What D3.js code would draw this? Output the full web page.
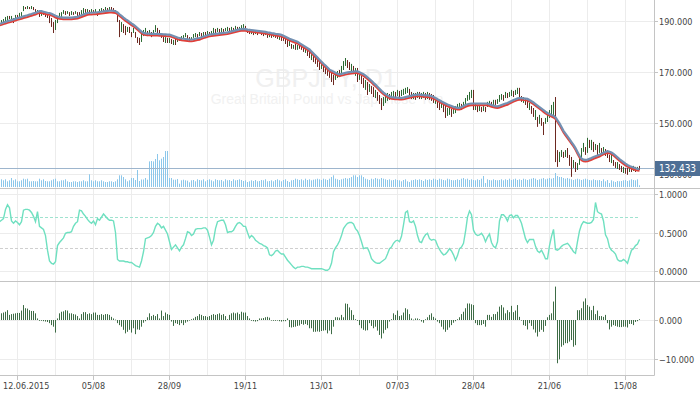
<!DOCTYPE html>
<html>
<head>
<meta charset="utf-8">
<script src="https://cdn.jsdelivr.net/npm/d3@7"></script>
<style>
  body { margin: 0; background: #fff; }
  svg { display: block; }
  .axis-text { font-family: "DejaVu Sans Condensed", "Liberation Sans", sans-serif; font-size: 9px; fill: #444; }
</style>
</head>
<body>
<div class="canvas"></div>
<script>
// GBPJPY daily, one value per bar (bar 0 = 01.06.2015)
const low = [
  188.5,189.3,189.7,190.1,190.5,190.9,190.9,189.3,191.3,191.3, 191.7,192.1,194.0,194.8,194.8,194.8,194.8,194.4,193.3,192.9,
  191.7,192.1,192.5,191.7,191.3,189.3,187.8,185.4,186.6,189.3, 190.9,191.7,192.9,192.5,192.9,192.1,192.5,192.5,192.9,192.1,
  191.7,192.5,192.9,193.3,193.6,192.9,193.3,193.3,193.6,192.1, 193.3,193.6,193.6,194.0,194.0,194.4,194.0,193.6,192.9,189.7,
  183.8,185.8,185.4,184.6,185.8,185.4,183.8,185.4,183.5,181.5, 180.7,181.9,184.2,185.4,184.2,184.6,183.8,184.6,185.8,185.4,
  184.6,183.5,181.9,181.5,181.5,181.5,181.1,180.7,180.7,181.9, 182.3,182.7,183.1,183.8,183.1,181.9,182.7,183.5,183.8,183.5,
  184.2,183.8,183.8,184.6,184.6,184.6,185.0,185.4,185.4,185.8, 185.4,185.8,185.4,186.2,186.2,185.8,186.2,185.8,186.6,186.2,
  186.6,187.0,187.4,186.6,185.4,185.0,185.0,184.6,185.0,184.6, 185.4,184.6,184.2,184.6,183.5,183.8,183.5,183.8,183.5,183.1,
  182.7,182.3,182.3,181.1,179.9,180.3,179.2,179.2,178.8,178.8, 179.2,178.8,178.0,177.6,176.4,175.6,174.8,174.0,173.3,172.1,
  170.9,171.3,170.1,169.3,168.6,167.8,166.2,165.0,167.0,167.8, 168.2,169.3,170.9,172.5,171.7,170.9,170.1,169.3,168.6,166.2,
  167.0,165.4,163.9,163.1,161.1,162.3,161.5,160.3,159.9,158.8, 157.6,155.2,156.8,158.0,158.8,159.2,159.5,160.3,159.9,160.7,
  160.3,160.7,161.1,161.5,161.9,160.7,159.5,159.5,159.2,159.9, 159.5,159.5,159.9,159.2,159.5,159.2,158.8,158.0,157.6,156.0,
  155.2,156.0,154.4,152.1,152.9,153.3,152.5,153.7,154.0,155.2, 155.6,155.2,156.0,157.2,158.8,159.2,159.9,155.2,155.2,154.4,
  154.8,154.4,154.8,154.4,156.4,156.8,156.4,156.8,157.2,157.6, 158.4,159.2,158.8,159.9,159.9,160.3,160.7,160.3,161.1,161.5,
  159.9,158.4,158.0,157.2,156.0,155.2,153.7,152.5,151.3,148.6, 149.8,149.0,145.4,149.8,150.5,152.1,152.5,152.1,134.8,132.9,
  134.8,136.8,136.4,136.8,136.4,133.3,129.0,132.5,130.9,131.7, 133.7,136.4,138.8,137.6,138.4,140.3,139.5,138.8,139.5,137.6,
  138.4,137.6,138.0,137.2,136.4,134.8,134.4,133.3,132.5,132.1, 131.7,130.9,130.5,130.2,129.8,130.9,130.9,131.3,130.9,131.3,
  131.7
];
const high = [
  189.7,190.5,190.9,191.7,192.1,192.1,192.1,191.3,192.5,192.5, 193.3,193.6,196.0,195.6,196.0,195.6,196.0,195.6,194.8,194.4,
  193.6,193.6,193.6,193.3,192.9,192.1,191.3,189.7,190.5,191.7, 193.3,193.6,194.4,194.0,194.0,193.6,194.0,193.6,194.0,193.6,
  193.6,194.4,195.2,194.8,194.8,194.4,194.8,194.4,194.8,193.6, 194.8,195.2,194.8,195.6,195.2,195.6,195.6,195.2,194.4,193.6,
  190.5,189.7,188.9,188.2,187.8,187.8,185.8,187.4,185.8,183.8, 183.5,185.4,186.6,187.4,186.2,186.6,185.8,186.6,188.5,187.4,
  186.6,185.4,184.6,183.8,183.5,183.5,183.1,182.7,183.1,183.8, 183.8,184.2,184.6,185.4,184.6,183.8,183.8,185.0,185.4,185.0,
  185.8,185.4,185.8,185.8,186.2,185.8,186.2,187.4,187.0,187.4, 187.0,187.4,187.0,187.4,187.8,187.4,187.8,187.4,188.2,187.8,
  187.8,188.5,188.9,188.2,187.0,187.0,186.6,186.6,186.2,186.2, 186.6,186.2,185.4,185.8,185.8,185.4,185.0,185.4,184.6,184.6,
  184.2,184.2,183.8,183.8,182.7,182.3,181.1,180.7,181.1,180.7, 181.1,180.3,179.9,179.5,179.2,178.4,177.6,176.8,176.0,175.6,
  174.8,174.0,173.3,172.5,171.7,170.9,170.1,169.0,170.1,170.5, 170.9,172.5,174.4,175.6,174.8,174.0,173.3,172.5,171.7,171.7,
  169.4,168.6,167.8,167.0,166.2,165.4,164.6,164.2,163.1,162.3, 161.1,159.9,160.3,161.1,161.9,161.5,162.3,162.7,162.3,163.1,
  162.7,163.1,163.5,163.9,164.2,163.5,162.3,161.9,161.9,162.3, 162.3,161.9,162.3,161.9,162.3,161.9,161.5,161.1,160.3,159.2,
  158.4,158.8,157.6,156.8,156.0,156.4,155.6,156.4,156.8,157.6, 158.0,157.6,158.4,159.9,161.1,162.3,163.1,163.1,157.6,156.8,
  156.8,156.4,156.8,156.4,158.4,158.8,158.4,159.2,159.2,159.5, 161.1,161.5,161.1,162.3,161.9,162.3,163.1,162.7,163.1,163.9,
  163.9,160.7,160.3,159.5,158.8,158.0,156.8,156.0,155.2,152.5, 153.3,152.1,150.5,152.1,153.7,155.2,157.2,158.4,160.3,139.5,
  138.8,139.5,138.8,139.5,140.3,137.6,136.8,135.6,134.8,134.4, 136.8,140.3,142.3,140.7,144.3,143.5,143.5,142.7,141.9,141.5,
  142.3,140.3,140.7,139.9,139.5,137.6,137.6,135.6,134.8,134.8, 134.0,133.3,132.9,132.5,132.5,133.3,132.9,133.3,132.9,132.9,
  133.3
];
const close = [
  189.4,190.2,190.6,191.4,191.8,191.2,191.9,189.8,192.2,191.7, 193.0,193.2,195.6,195.0,195.6,195.1,195.7,194.6,193.6,194.1,
  192.0,193.3,192.8,192.0,191.6,189.7,188.3,186.2,189.9,191.3, 192.9,193.2,194.0,192.9,193.7,192.5,193.6,192.9,193.6,192.4,
  192.0,194.1,194.9,193.7,194.5,193.4,194.5,193.7,194.5,192.5, 194.6,194.9,194.0,195.3,194.4,195.3,194.6,194.0,193.2,190.2,
  185.4,188.9,186.0,185.1,187.4,186.0,184.2,187.0,184.0,182.0, 181.2,185.0,186.2,187.0,184.6,186.2,184.3,186.0,188.0,185.8,
  185.0,183.8,182.3,183.4,181.9,183.1,181.5,182.3,181.1,183.5, 182.7,183.9,184.3,185.0,183.5,182.3,183.5,184.7,185.1,183.9,
  185.5,184.2,185.4,184.9,185.9,185.0,185.9,187.0,185.8,187.1, 185.9,187.0,185.8,187.1,187.4,186.2,187.5,186.3,187.9,186.6,
  187.5,188.2,188.6,186.9,185.8,185.4,186.3,185.0,185.9,185.0, 186.3,185.0,184.6,185.5,184.0,185.0,183.9,185.0,183.8,183.5,
  183.9,182.7,182.6,181.5,180.3,181.9,179.6,180.3,179.2,180.3, 179.5,179.0,178.4,179.1,176.8,176.0,177.2,174.4,173.7,172.5,
  171.3,173.6,170.5,169.7,169.0,168.2,166.6,165.8,169.7,170.1, 168.6,172.1,174.0,175.2,172.1,171.3,172.9,169.7,171.3,166.8,
  167.4,165.8,164.3,166.6,161.5,165.0,161.9,160.7,162.7,159.2, 158.0,155.9,159.9,160.7,161.5,159.6,161.9,162.3,160.3,162.7,
  160.7,162.7,163.1,163.5,163.9,161.1,160.0,161.5,159.6,161.9, 159.9,161.5,161.9,159.6,161.9,159.6,159.2,158.4,159.9,156.4,
  155.6,158.4,154.8,153.0,155.6,156.0,153.0,156.0,156.4,157.2, 157.6,155.6,158.0,159.5,160.7,161.9,162.7,156.0,157.2,154.8,
  156.4,154.8,156.4,154.8,158.0,158.4,156.8,158.8,157.6,159.1, 160.7,161.1,159.2,161.9,160.3,161.9,162.7,160.7,162.7,163.5,
  160.3,158.8,159.9,157.6,156.4,157.6,154.0,152.9,154.8,149.0, 152.9,149.4,147.0,151.7,153.3,154.8,156.8,158.0,139.3,133.6,
  138.4,139.1,136.8,139.1,136.8,133.7,131.5,135.0,131.5,132.0, 136.4,139.9,141.9,138.0,143.9,140.7,143.1,139.2,141.5,138.0,
  141.9,138.0,140.3,137.6,136.8,135.2,137.2,133.7,132.9,134.4, 132.1,131.3,132.5,130.6,130.2,132.9,131.3,132.9,131.7,132.5,
  132.433
];
// moving average drawn over the price bars
const ma = [
  188.9,189.1,189.4,189.6,189.9,190.1,190.3,190.6,190.8,191.1, 191.3,191.5,191.8,192.0,192.2,192.5,192.7,193.0,193.2,193.5,
  193.8,193.8,193.6,193.4,193.2,193.1,192.8,192.4,192.0,191.7, 191.5,191.4,191.3,191.3,191.3,191.3,191.3,191.4,191.5,191.6,
  191.9,192.2,192.5,192.8,193.1,193.2,193.2,193.3,193.3,193.4, 193.5,193.6,193.7,193.8,193.9,194.0,194.0,193.9,193.8,193.3,
  192.6,192.0,191.3,190.7,190.2,189.6,189.0,188.5,187.9,187.2, 186.5,185.8,185.3,185.1,185.0,185.0,184.9,184.9,184.9,184.9,
  184.8,184.8,184.7,184.7,184.6,184.6,184.4,184.1,183.8,183.5, 183.3,183.1,183.0,182.9,182.8,182.7,182.7,182.8,183.0,183.2,
  183.3,183.6,183.9,184.1,184.4,184.6,184.7,184.8,184.9,185.0, 185.1,185.2,185.3,185.4,185.5,185.7,185.9,186.1,186.3,186.5,
  186.7,186.8,186.9,186.8,186.6,186.5,186.4,186.3,186.2,186.1, 186.0,185.9,185.8,185.7,185.5,185.4,185.2,185.1,184.9,184.8,
  184.7,184.5,184.2,183.8,183.4,183.0,182.7,182.4,182.1,181.8, 181.3,180.8,180.3,179.8,179.3,178.8,178.0,177.2,176.4,175.6,
  174.8,174.0,173.2,172.5,171.7,170.9,170.5,170.1,169.7,169.3, 169.0,169.2,169.4,169.6,169.8,169.9,170.0,170.1,170.2,170.2,
  169.9,169.5,169.1,168.5,167.9,167.2,166.5,165.7,165.0,164.2, 163.4,162.6,161.9,161.3,160.8,160.4,160.1,160.0,159.9,159.9,
  159.8,159.8,159.9,160.1,160.3,160.5,160.7,160.9,161.0,161.1, 161.1,161.0,160.9,160.8,160.8,160.7,160.5,160.2,159.8,159.3,
  158.9,158.4,158.0,157.6,157.2,156.9,156.6,156.3,156.1,155.9, 155.9,156.2,156.6,157.0,157.3,157.5,157.6,157.6,157.6,157.6,
  157.6,157.6,157.6,157.6,157.6,157.3,157.0,156.8,156.6,156.5, 156.7,157.0,157.3,157.6,157.8,158.2,158.6,159.0,159.3,159.6,
  159.7,159.7,159.6,159.5,159.4,159.0,158.5,158.0,157.4,156.8, 156.2,155.6,155.0,154.4,153.9,153.5,153.1,152.8,152.2,151.0,
  149.8,148.4,146.9,145.8,144.7,143.6,142.5,141.4,140.1,138.6, 137.1,136.0,135.6,135.5,135.6,135.9,136.2,136.6,136.9,137.2,
  137.5,137.9,138.3,138.6,138.9,138.7,138.4,137.9,137.2,136.5, 135.8,135.2,134.6,134.0,133.5,133.1,132.8,132.5,132.2,132.0,
  131.9
];
const volume = [
  770,770,670,770,570,670,900,670,770,570, 570,670,830,770,830,570,570,600,570,570,
  830,670,770,600,570,570,670,770,830,570, 570,670,670,770,570,500,500,570,570,500,
  570,570,670,570,570,1270,670,570,670,570, 570,670,570,500,500,570,570,500,570,770,
  1170,1170,1000,770,570,670,900,900,700,1700, 600,750,750,900,730,2560,2600,2560,2800,3300,
  2670,2830,3000,3600,3600,900,900,730,730,800, 330,670,730,670,630,470,670,700,570,770,
  700,670,770,570,700,770,670,570,770,700, 670,700,570,770,670,700,600,770,670,700,
  770,700,600,670,500,570,670,600,700,570, 600,700,670,770,570,600,670,570,700,770,
  670,570,700,770,600,500,670,700,830,770, 700,770,670,830,700,770,670,730,770,830,
  770,700,830,770,700,830,1000,1170,830,770, 700,770,830,900,830,900,1000,1170,1170,1000,
  1170,1170,1000,830,770,700,830,770,900,830, 770,900,830,770,700,770,670,700,770,700,
  670,570,700,770,570,500,670,700,770,700, 770,700,600,770,700,770,700,830,770,700,
  830,770,700,670,830,770,700,670,700,770, 700,830,900,770,830,700,770,700,670,770,
  700,830,1100,400,770,700,670,770,700,670, 700,770,670,770,700,830,700,770,830,700,
  770,700,830,770,700,770,830,900,830,700, 770,830,900,770,830,900,830,900,1400,1100,
  1000,1000,900,830,900,830,770,700,770,830, 770,700,770,830,770,700,670,770,700,670,
  700,600,770,570,700,400,670,570,500,600, 570,600,670,700,600,670,770,700,670,770,
  170
];
// oscillator pane (0..1)
const osc = [
  0.64,0.66,0.68,0.80,0.86,0.82,0.65,0.62,0.65,0.63, 0.60,0.64,0.79,0.80,0.80,0.79,0.76,0.71,0.64,0.77,
  0.58,0.56,0.54,0.46,0.27,0.13,0.10,0.09,0.12,0.33, 0.37,0.40,0.43,0.49,0.50,0.50,0.51,0.58,0.62,0.64,
  0.79,0.78,0.74,0.71,0.67,0.64,0.62,0.65,0.60,0.68, 0.66,0.70,0.74,0.71,0.68,0.66,0.66,0.65,0.50,0.15,
  0.13,0.13,0.13,0.12,0.12,0.11,0.11,0.09,0.07,0.06, 0.05,0.13,0.25,0.42,0.43,0.44,0.46,0.50,0.58,0.62,
  0.60,0.56,0.58,0.53,0.48,0.38,0.28,0.31,0.34,0.30, 0.26,0.31,0.34,0.42,0.51,0.50,0.46,0.48,0.54,0.55,
  0.55,0.55,0.56,0.56,0.53,0.44,0.34,0.40,0.55,0.64, 0.65,0.66,0.66,0.60,0.50,0.51,0.51,0.53,0.58,0.62,
  0.63,0.61,0.58,0.58,0.50,0.43,0.46,0.44,0.40,0.38, 0.36,0.35,0.33,0.32,0.30,0.21,0.20,0.22,0.26,0.27,
  0.24,0.22,0.22,0.18,0.14,0.11,0.08,0.05,0.03,0.05, 0.05,0.06,0.06,0.05,0.05,0.04,0.03,0.03,0.03,0.03,
  0.03,0.03,0.02,0.01,0.01,0.03,0.10,0.25,0.30,0.34, 0.39,0.46,0.55,0.59,0.62,0.63,0.63,0.61,0.55,0.52,
  0.46,0.38,0.29,0.30,0.30,0.24,0.16,0.13,0.11,0.10, 0.10,0.12,0.14,0.16,0.22,0.29,0.31,0.36,0.39,0.40,
  0.38,0.45,0.60,0.76,0.78,0.64,0.63,0.65,0.58,0.46, 0.38,0.37,0.43,0.47,0.49,0.42,0.40,0.41,0.40,0.33,
  0.28,0.24,0.21,0.22,0.25,0.29,0.26,0.21,0.14,0.20, 0.29,0.31,0.36,0.51,0.70,0.78,0.73,0.53,0.48,0.46,
  0.47,0.49,0.45,0.38,0.44,0.48,0.37,0.32,0.30,0.38, 0.65,0.73,0.73,0.70,0.65,0.72,0.73,0.69,0.72,0.72,
  0.68,0.62,0.52,0.42,0.37,0.41,0.41,0.41,0.32,0.26, 0.24,0.27,0.22,0.16,0.16,0.33,0.45,0.54,0.28,0.27,
  0.29,0.32,0.34,0.35,0.36,0.33,0.29,0.25,0.23,0.38, 0.52,0.60,0.64,0.63,0.62,0.62,0.63,0.67,0.89,0.77,
  0.75,0.74,0.65,0.47,0.42,0.31,0.27,0.25,0.22,0.15, 0.13,0.13,0.15,0.13,0.10,0.19,0.27,0.29,0.33,0.35,
  0.41
];
const oscLevels = [0.3, 0.7];
// histogram pane
const hist = [
  1.7,1.7,1.9,2.1,2.5,1.3,1.5,1.6,1.7,1.8, 1.8,2.4,3.8,3.0,2.9,2.5,2.3,2.3,1.7,0.4,
  -0.2,-0.2,-0.3,-0.4,-0.5,-0.8,-1.3,-1.7,-3.2,0.4, 1.7,2.1,2.2,2.5,2.4,1.7,1.7,1.5,1.4,1.0,
  0.4,1.5,2.0,2.0,1.5,1.7,1.5,1.9,1.9,1.3, 1.3,1.5,1.3,1.5,1.5,1.3,0.8,0.4,0.1,-0.8,
  -1.3,-1.7,-2.5,-3.4,-3.0,-2.5,-3.2,-2.1,-3.6,-2.4, -2.5,-1.7,-0.7,-0.3,0.7,1.7,1.0,1.3,1.0,1.5,
  0.4,2.4,1.0,1.9,1.5,1.3,-0.4,-1.5,-0.8,-1.0, -1.3,-0.8,-1.3,-0.7,-0.4,-0.1,0.2,0.4,0.8,1.0,
  1.5,1.3,1.0,1.0,0.8,1.0,1.3,1.5,1.3,1.5, 1.7,1.3,1.5,1.0,0.2,1.3,1.7,1.9,1.7,1.9,
  1.5,2.1,1.9,1.9,1.0,0.4,-0.2,-0.3,-0.4,-0.3, 0.4,0.4,0.5,0.7,0.8,0.6,-0.1,-0.2,-0.2,-0.1,
  -0.3,-0.4,-0.3,-0.3,0.4,-1.8,-1.9,-1.8,-1.7,-1.5, -1.4,-1.0,-1.2,-1.0,-1.3,-2.1,-2.1,-3.0,-3.0,-2.9,
  -3.0,-2.8,-2.7,-2.6,-3.4,-2.7,-3.6,-1.7,0.7,0.7, 0.6,1.3,0.7,4.2,4.1,3.2,2.5,1.3,0.2,-0.2,
  -1.3,-2.1,-2.5,-2.7,-2.6,-0.8,-1.5,-2.1,-1.7,-2.7, -3.8,-4.7,-3.4,-2.5,-2.1,-0.4,0.2,1.7,1.3,2.4,
  1.0,1.2,1.9,3.0,2.7,1.5,0.4,0.1,0.4,0.4, 0.2,-0.4,-0.7,0.2,0.7,1.3,1.7,0.8,0.4,-0.4,
  -0.8,-1.7,-2.4,-3.0,-2.5,-1.9,-1.3,-0.7,-0.3,0.2, 0.7,1.5,2.1,3.0,4.2,4.2,4.0,3.8,-0.8,-1.3,
  -1.3,-1.3,-1.0,-1.7,1.3,1.3,0.8,1.5,1.5,2.1, 3.4,3.8,3.2,1.7,2.5,2.0,3.6,2.0,2.4,3.8,
  0.8,0.0,-1.3,-1.5,-2.4,-0.8,-1.5,-2.4,-3.2,-4.2, -3.0,-2.5,-3.0,-1.5,0.7,1.3,1.7,4.7,8.5,-11.0,
  -10.0,-6.8,-6.4,-5.9,-5.9,-5.5,-5.1,-6.8,-6.4,2.5, 2.5,3.0,4.7,5.5,3.8,3.4,2.5,3.6,1.5,2.4,
  1.0,1.0,0.8,1.3,-0.8,-2.4,-1.7,-1.3,-1.5,-1.7, -1.8,-1.8,-1.7,-1.7,-1.9,-1.0,-1.0,-1.3,-0.5,-0.3,
  0.2
];

const dateLabels = ['12.06.2015', '05/08', '28/09', '19/11', '13/01', '07/03', '28/04', '21/06', '15/08'];
const labelBars = [9, 47, 85, 123, 161, 199, 237, 275, 313];
const gridBars = d3.range(9, close.length, 19);
const priceTicks = [130, 150, 170, 190];
const oscTicks = [0, 0.5, 1];
const histTicks = [-10, 0];

const dims = { width: 700, height: 394, plotRight: 654 };
const panes = {
    main: { top: 0, bottom: 188 },
    osc: { top: 189, bottom: 281 },
    hist: { top: 282, bottom: 375 }
};

const svg = d3.select('.canvas').append('svg')
    .attr('width', dims.width)
    .attr('height', dims.height);

const x = d3.scaleLinear().domain([0, 320]).range([-0.5, 639.5]);
const y = d3.scaleLinear().domain([130, 190]).range([174.3, 21.3]);
const yVol = d3.scaleLinear().domain([0, 4000]).range([187, 147]);
const yOsc = d3.scaleLinear().domain([0, 1]).range([271, 194]);
const yHist = d3.scaleLinear().domain([-10, 0]).range([359.3, 320]);

const defs = svg.append('defs');
Object.entries(panes).forEach(([k, p]) => {
    defs.append('clipPath').attr('id', 'clip-' + k)
        .append('rect')
        .attr('x', 0).attr('y', p.top)
        .attr('width', dims.plotRight).attr('height', p.bottom - p.top);
});

// watermark
const wm = svg.append('g').attr('font-family', '"Liberation Sans", sans-serif').attr('text-anchor', 'middle');
wm.append('text').attr('x', 326).attr('y', 87).attr('font-size', 25).attr('fill', '#f0f0f0').text('GBPJPY, D1');
wm.append('text').attr('x', 327).attr('y', 104).attr('font-size', 14).attr('fill', '#f1f1f1').text('Great Britain Pound vs Japanese Yen');

// grid
const grid = svg.append('g').attr('stroke', '#ececec').attr('stroke-width', 1);
gridBars.forEach(b => {
    grid.append('line').attr('x1', x(b)).attr('x2', x(b)).attr('y1', 0).attr('y2', panes.hist.bottom);
});
const hGrid = (scale, vals) => vals.forEach(v => {
    const yy = Math.round(scale(v)) + 0.5;
    grid.append('line').attr('x1', 0).attr('x2', dims.plotRight).attr('y1', yy).attr('y2', yy);
});
hGrid(y, priceTicks);
hGrid(yOsc, oscTicks);
hGrid(yHist, histTicks);

// volume
svg.append('g').attr('clip-path', 'url(#clip-main)')
    .selectAll('rect').data(volume).join('rect')
    .attr('x', (d, i) => x(i) - 0.5)
    .attr('width', 1)
    .attr('y', d => yVol(d))
    .attr('height', d => yVol(0) - yVol(d))
    .attr('fill', '#8cc7ea');

// last price line
const lastPrice = close[close.length - 1];
svg.append('line')
    .attr('x1', 0).attr('x2', dims.plotRight)
    .attr('y1', Math.round(y(lastPrice)) + 0.5).attr('y2', Math.round(y(lastPrice)) + 0.5)
    .attr('stroke', '#9db5cd').attr('stroke-width', 1);

// price bars (open = previous close)
const mainG = svg.append('g').attr('clip-path', 'url(#clip-main)');
mainG.selectAll('line.bar').data(close).join('line')
    .attr('class', 'bar')
    .attr('x1', (d, i) => x(i)).attr('x2', (d, i) => x(i))
    .attr('y1', (d, i) => y(high[i])).attr('y2', (d, i) => y(low[i]))
    .attr('stroke', (d, i) => d >= (i ? close[i - 1] : low[i]) ? '#2c6a32' : '#6c2820')
    .attr('stroke-width', 1);

const maLine = d3.line().x((d, i) => x(i)).y(d => y(d)).curve(d3.curveLinear);
mainG.append('path').datum(ma)
    .attr('d', maLine).attr('transform', 'translate(0,1.3)')
    .attr('fill', 'none').attr('stroke', '#e0403a').attr('stroke-width', 2);
mainG.append('path').datum(ma)
    .attr('d', maLine).attr('transform', 'translate(0,-0.4)')
    .attr('fill', 'none').attr('stroke', '#7390b2').attr('stroke-width', 2.2);

// oscillator
const oscG = svg.append('g').attr('clip-path', 'url(#clip-osc)');
oscLevels.forEach(v => {
    oscG.append('line')
        .attr('x1', 0).attr('x2', x(osc.length - 1))
        .attr('y1', Math.round(yOsc(v)) + 0.5).attr('y2', Math.round(yOsc(v)) + 0.5)
        .attr('stroke', v > 0.5 ? '#9fe3cf' : '#cfcfcf')
        .attr('stroke-dasharray', '3,2');
});
oscG.append('path').datum(osc)
    .attr('d', d3.line().x((d, i) => x(i)).y(d => yOsc(d)))
    .attr('fill', 'none').attr('stroke', '#6fe0c0').attr('stroke-width', 1.4);

// histogram
svg.append('g').attr('clip-path', 'url(#clip-hist)')
    .selectAll('rect').data(hist).join('rect')
    .attr('x', (d, i) => x(i) - 0.5)
    .attr('width', 1)
    .attr('y', d => yHist(Math.max(0, d)))
    .attr('height', d => Math.max(0.6, Math.abs(yHist(d) - yHist(0))))
    .attr('fill', '#3e6c46');

// frame
const frame = svg.append('g').attr('stroke', '#c4c4c4').attr('stroke-width', 1);
frame.append('line').attr('x1', 0).attr('x2', dims.width).attr('y1', 188.5).attr('y2', 188.5);
frame.append('line').attr('x1', 0).attr('x2', dims.width).attr('y1', 281.5).attr('y2', 281.5);
frame.append('line').attr('x1', 0).attr('x2', dims.plotRight + 0.5).attr('y1', 375.5).attr('y2', 375.5);
frame.append('line').attr('x1', dims.plotRight + 0.5).attr('x2', dims.plotRight + 0.5).attr('y1', 0).attr('y2', 375.5);

// right axis labels
const rightAxis = (scale, vals, fmt) => vals.forEach(v => {
    const yy = Math.round(scale(v)) + 0.5;
    frame.append('line').attr('x1', dims.plotRight).attr('x2', dims.plotRight + 4).attr('y1', yy).attr('y2', yy);
    svg.append('text').attr('class', 'axis-text')
        .attr('x', 659).attr('y', yy).attr('dy', '0.35em')
        .text(fmt(v));
});
rightAxis(y, priceTicks, d3.format('.3f'));
rightAxis(yOsc, oscTicks, d3.format('.4f'));
rightAxis(yHist, histTicks, d3.format('.3f'));

// date labels
labelBars.forEach((b, k) => {
    frame.append('line').attr('x1', x(b)).attr('x2', x(b)).attr('y1', 375).attr('y2', 380);
    const t = svg.append('text').attr('class', 'axis-text')
        .attr('y', 389).attr('text-anchor', 'middle').text(dateLabels[k]);
    const w = t.node().getComputedTextLength();
    t.attr('x', Math.max(x(b), 3 + w / 2));
});

// last price tag
const tagY = Math.round(y(lastPrice));
svg.append('rect').attr('x', 655).attr('y', tagY - 7).attr('width', 45).attr('height', 15).attr('fill', '#4e6f95');
svg.append('text').attr('class', 'axis-text')
    .attr('x', 677.5).attr('y', tagY + 0.5).attr('dy', '0.35em').attr('text-anchor', 'middle')
    .style('fill', '#fff').style('font-size', '10px')
    .text(d3.format('.3f')(lastPrice));
</script>
</body>
</html>
